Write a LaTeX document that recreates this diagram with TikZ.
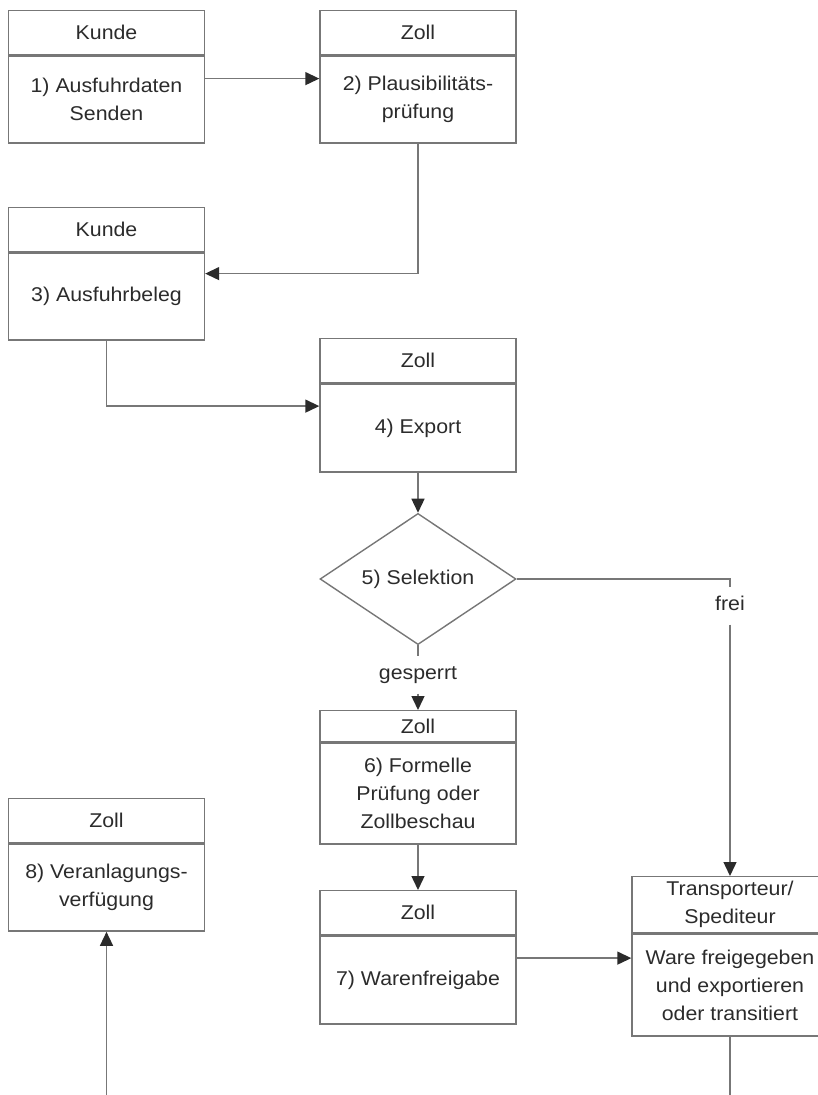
\documentclass[tikz,border=0pt]{standalone}
\usepackage{fontspec}
\setmainfont[FakeStretch=1.07]{Liberation Sans}
\usetikzlibrary{positioning,shapes.geometric,arrows.meta}
\definecolor{linegray}{HTML}{777777}
\definecolor{textgray}{HTML}{2B2B2B}
\begin{document}
\begin{tikzpicture}[x=1bp, y=-1bp,
    head/.style = {rectangle, draw=linegray, line width=1.4bp, minimum width=196bp,
                   minimum height=44bp, inner sep=2bp, align=center, text=textgray,
                   font=\fontsize{20}{28}\selectfont, anchor=north},
    body/.style = {head, minimum height=87bp},
    choice/.style = {diamond, draw=linegray, line width=1.4bp, minimum width=196bp,
                     minimum height=130bp, inner sep=0pt, text=textgray,
                     font=\fontsize{20}{28}\selectfont},
    cond/.style = {text=textgray, font=\fontsize{20}{28}\selectfont, inner xsep=2bp,
                   inner ysep=9bp, text height=14bp, text depth=5bp},
    conn/.style = {draw=linegray, line width=1.4bp},
    arr/.style = {conn, -{Triangle[length=14bp, width=13bp, color=textgray]}}]
    \clip (0,0) rectangle (818,1095);

    % Kunde / Zoll, oben
    \node[head] (k1) at (106.5,10) {Kunde};
    \node[body, below=0pt of k1] (k1b) {1) Ausfuhrdaten\\Senden};
    \node[head] (z2) at (418,10) {Zoll};
    \node[body, below=0pt of z2] (z2b) {2) Plausibilitäts-\\prüfung};

    \node[head] (k3) at (106.5,207) {Kunde};
    \node[body, below=0pt of k3] (k3b) {3) Ausfuhrbeleg};
    \node[head] (z4) at (418,338) {Zoll};
    \node[body, below=0pt of z4, minimum height=88bp] (z4b) {4) Export};

    \node[choice] (sel) at (418,579) {5) Selektion};
    \node[cond] (frei) at (730,606) {frei};
    \node[cond] (gesp) at (418,675) {gesperrt};

    \node[head, minimum height=31bp] (z6) at (418,710) {Zoll};
    \node[body, below=0pt of z6, minimum height=101bp] (z6b) {6) Formelle\\Prüfung oder\\Zollbeschau};
    \node[head] (z7) at (418,890) {Zoll};
    \node[body, below=0pt of z7, minimum height=88bp] (z7b) {7) Warenfreigabe};
    \node[head] (z8) at (106.5,798) {Zoll};
    \node[body, below=0pt of z8] (z8b) {8) Veranlagungs-\\verfügung};

    \node[head, minimum height=56bp] (tp) at (730,876) {Transporteur/\\Spediteur};
    \node[body, below=0pt of tp, minimum height=102bp] (tpb) {Ware freigegeben\\und exportieren\\oder transitiert};

    \coordinate (out) at (730,1100);
    \coordinate (in) at (106.5,1100);

    % Verbindungen
    \draw[arr] ([yshift=21bp]k1b.east) -- ([yshift=21bp]z2b.west);
    \draw[arr] (z2b.south) |- ([yshift=23bp]k3b.east);
    \draw[arr] (k3b.south) |- ([yshift=22bp]z4b.west);
    \draw[arr] (z4b.south) -- (sel.north);
    \draw[conn] (sel.east) -| (frei.north);
    \draw[arr] (frei.south) -- (tp.north);
    \draw[conn] (sel.south) -- (gesp.north);
    \draw[arr] (gesp.south) -- (z6.north);
    \draw[arr] (z6b.south) -- (z7.north);
    \draw[arr] ([yshift=22bp]z7b.east) -- ([yshift=22bp]z7b.east -| tpb.west);
    \draw[conn] (tpb.south) -- (out);
    \draw[arr] (in) -- (z8b.south);
\end{tikzpicture}
\end{document}
